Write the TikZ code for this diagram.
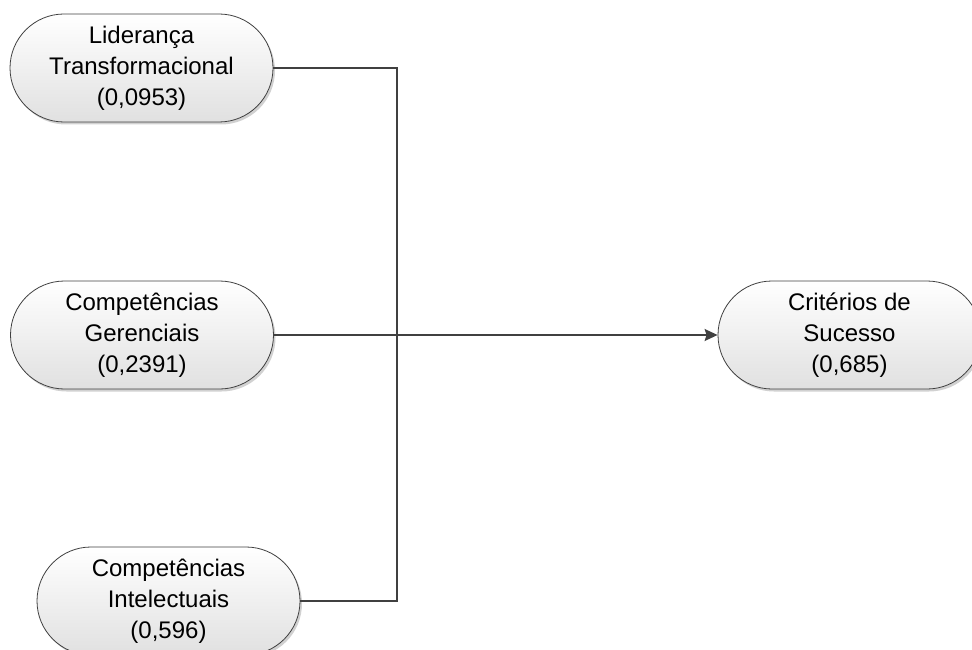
\documentclass[tikz,border=0pt]{standalone}
\usepackage{fontspec}
\setmainfont{Liberation Sans}
\usetikzlibrary{shadows,arrows.meta}
\definecolor{edge}{HTML}{404040}
\tikzset{
  pill/.style={draw=edge, line width=0.8pt, rounded corners=54pt, minimum width=263pt, minimum height=108pt,
    inner sep=0pt, align=center, top color=white, bottom color=black!12,
    drop shadow={shadow xshift=2pt, shadow yshift=-2.5pt, fill=black!30, opacity=0.6},
    font=\fontsize{24}{31}\selectfont},
  conn/.style={draw=edge, line width=1.5pt},
  tip/.style={-{Stealth[length=13pt,width=12pt,inset=2pt]}}
}
\begin{document}
\begin{tikzpicture}[x=1pt,y=-1pt]
\useasboundingbox (0,0) rectangle (972,650);
\clip (0,0) rectangle (972,650);
\node[pill] (lt) at (141.5,68) {Liderança\\Transformacional\\(0,0953)};
\node[pill] (cg) at (142,335) {Competências\\Gerenciais\\(0,2391)};
\node[pill] (ci) at (168.5,601) {Competências\\Intelectuais\\(0,596)};
\node[pill] (cs) at (849.5,335) {Critérios de\\Sucesso\\(0,685)};
\coordinate (jb) at (397,601);
\draw[conn] (lt.east) -| (jb) -- (ci.east);
\draw[conn,tip] (cg.east) -- (cs.west);
\end{tikzpicture}
\end{document}
